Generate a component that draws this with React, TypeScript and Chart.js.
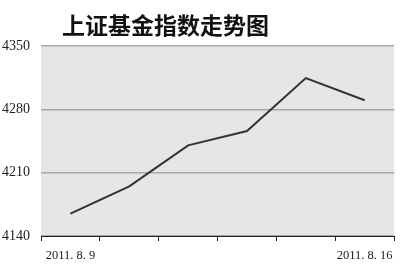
import React, { useEffect, useRef } from "react";
import { Chart, registerables } from "chart.js";

Chart.register(...registerables);

const title = "上证基金指数走势图";
const categories = ["2011.8.9", "2011.8.10", "2011.8.11", "2011.8.12", "2011.8.15", "2011.8.16"];
const xTickLabels = ["2011. 8. 9", "", "", "", "", "2011. 8. 16"];
const values = [4164.7, 4194.9, 4240.2, 4256, 4314.6, 4290];
const yMin = 4140;
const yMax = 4350;
const yStep = 70;

const bgPlugin = {
  id: "plotBg",
  beforeDraw(chart: any) {
    const { ctx, chartArea } = chart;
    ctx.save();
    ctx.fillStyle = "#e6e6e6";
    ctx.fillRect(chartArea.left, chartArea.top, chartArea.right - chartArea.left, chartArea.bottom - chartArea.top);
    ctx.restore();
  },
};

const titlePlugin = {
  id: "leftTitle",
  afterDraw(chart: any) {
    const { ctx } = chart;
    ctx.save();
    ctx.fillStyle = "#111";
    ctx.font = "bold 23px 'Noto Sans CJK SC'";
    ctx.textAlign = "left";
    ctx.textBaseline = "middle";
    ctx.fillText(title, 62, 25);
    ctx.restore();
  },
};

export default function App() {
  const ref = useRef<HTMLCanvasElement>(null);
  useEffect(() => {
    document.body.style.margin = "0";
    const chart = new Chart(ref.current!, {
      type: "line",
      data: {
        labels: categories,
        datasets: [
          {
            data: values,
            borderColor: "#333",
            borderWidth: 2,
            pointRadius: 0,
            tension: 0,
            fill: false,
          },
        ],
      },
      options: {
        animation: false,
        responsive: false,
        maintainAspectRatio: false,
        layout: { padding: { top: 46, right: 5, left: 2, bottom: 0 } },
        plugins: { legend: { display: false }, tooltip: { enabled: false }, title: { display: false } },
        scales: {
          x: {
            offset: true,
            grid: { offset: true, drawOnChartArea: false, drawTicks: true, tickLength: 5, color: "#222" },
            border: { display: true, color: "#222", width: 1 },
            ticks: {
              autoSkip: false,
              maxRotation: 0,
              minRotation: 0,
              padding: 7,
              color: "#222",
              font: { family: "'Liberation Serif'", size: 12.5 },
              callback: (_v: any, i: number) => xTickLabels[i],
            },
            afterFit(scale: any) {
              scale.height = 30;
            },
          },
          y: {
            min: yMin,
            max: yMax,
            ticks: {
              stepSize: yStep,
              color: "#222",
              crossAlign: "far",
              padding: 0,
              font: { family: "'Liberation Serif'", size: 14 },
              callback: (v: any) => String(v),
            },
            grid: { color: "#a8a8a8", lineWidth: 1.5, drawTicks: false },
            border: { display: false },
            afterFit(scale: any) {
              scale.width = 39;
            },
          },
        },
      },
      plugins: [bgPlugin, titlePlugin],
    });
    return () => chart.destroy();
  }, []);
  return (
    <div style={{ position: "relative", width: 400, height: 266, background: "#fff" }}>
      <canvas ref={ref} width={400} height={266} style={{ width: 400, height: 266, display: "block" }} />
    </div>
  );
}
